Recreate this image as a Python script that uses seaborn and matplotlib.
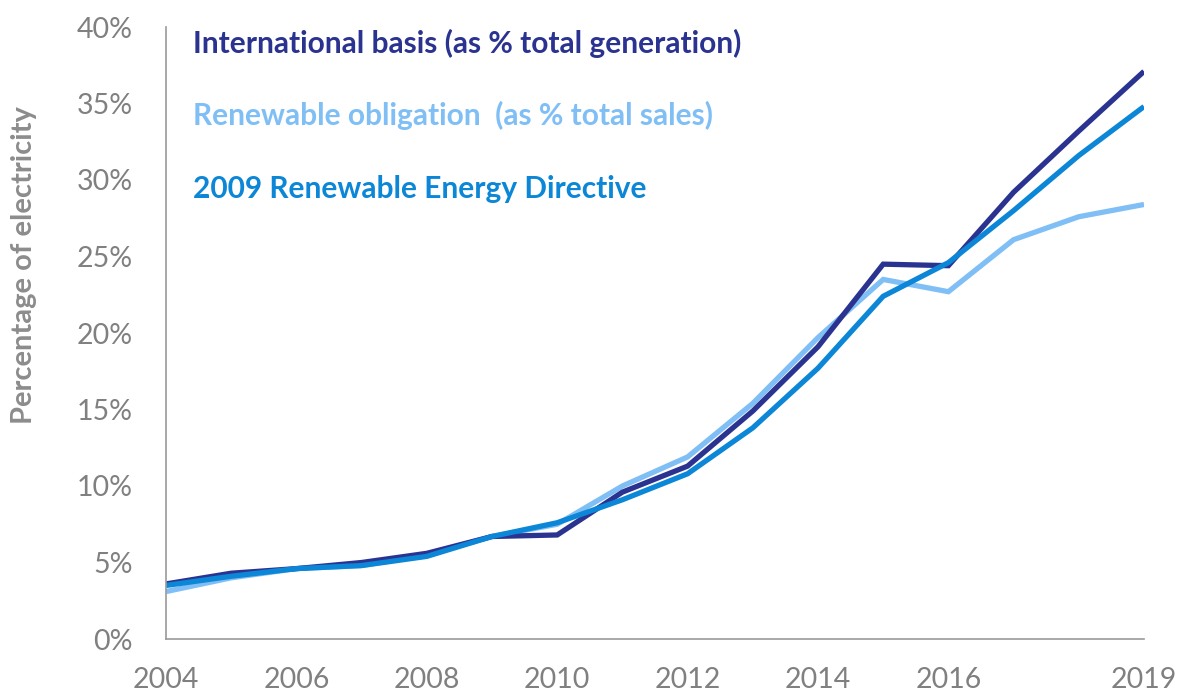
import matplotlib
matplotlib.use("Agg")
import matplotlib.pyplot as plt
import seaborn as sns
import pandas as pd

years = list(range(2004, 2020))
international_basis = [3.6, 4.3, 4.6, 5.0, 5.6, 6.7, 6.8, 9.6, 11.3, 14.9, 19.1, 24.5, 24.4, 29.2, 33.2, 37.1]
renewable_obligation = [3.1, 4.0, 4.6, 4.8, 5.5, 6.7, 7.5, 10.0, 11.9, 15.4, 19.7, 23.5, 22.7, 26.1, 27.6, 28.4]
red_2009 = [3.5, 4.1, 4.6, 4.8, 5.4, 6.7, 7.6, 9.1, 10.8, 13.8, 17.7, 22.4, 24.6, 28.0, 31.6, 34.8]

series_names = [
    "Renewable obligation  (as % total sales)",
    "International basis (as % total generation)",
    "2009 Renewable Energy Directive",
]
series_colors = ["#7FBFF5", "#2B3391", "#0C86D6"]
xtick_years = [2004, 2006, 2008, 2010, 2012, 2014, 2016, 2019]
ytick_values = [0, 5, 10, 15, 20, 25, 30, 35, 40]

df = pd.concat([
    pd.DataFrame({"year": years, "value": renewable_obligation, "series": series_names[0]}),
    pd.DataFrame({"year": years, "value": international_basis, "series": series_names[1]}),
    pd.DataFrame({"year": years, "value": red_2009, "series": series_names[2]}),
])

sns.set_theme(style="white")
plt.rcParams["font.family"] = ["Lato", "DejaVu Sans"]

fig = plt.figure(figsize=(11.79, 6.93), dpi=100)
ax = fig.add_axes([166 / 1179, 1 - 639 / 693, 978 / 1179, 612 / 693])

sns.lineplot(data=df, x="year", y="value", hue="series", hue_order=series_names,
             palette=series_colors, linewidth=3.8, legend=False, ax=ax,
             solid_capstyle="butt", solid_joinstyle="miter")

ax.set_xlim(2004, 2019)
ax.set_ylim(0, 40)
ax.set_xticks(xtick_years)
ax.set_xticklabels([str(y) for y in xtick_years])
ax.set_yticks(ytick_values)
ax.set_yticklabels([f"{v}%" for v in ytick_values])
ax.tick_params(axis="both", length=0, labelsize=20.5, labelcolor="#808080")
ax.tick_params(axis="x", pad=20)
ax.tick_params(axis="y", pad=24)

for side in ["top", "right"]:
    ax.spines[side].set_visible(False)
for side in ["left", "bottom"]:
    ax.spines[side].set_color("#9A9A9A")
    ax.spines[side].set_linewidth(1.2)

ax.set_xlabel("")
ax.set_ylabel("")
fig.text(24 / 1179, 1 - 265 / 693, "Percentage of electricity", rotation=90,
         ha="center", va="center", fontsize=21, fontweight="bold", color="#8C8C8C")

# Colour-coded series labels in the upper left
label_rows = [
    (series_names[1], series_colors[1], 43),
    (series_names[0], series_colors[0], 115),
    (series_names[2], series_colors[2], 189),
]
for text, color, ypix in label_rows:
    fig.text(193 / 1179, 1 - ypix / 693, text, ha="left", va="center",
             fontsize=21.5, fontweight="bold", color=color)

fig.savefig("out.png", dpi=100)
